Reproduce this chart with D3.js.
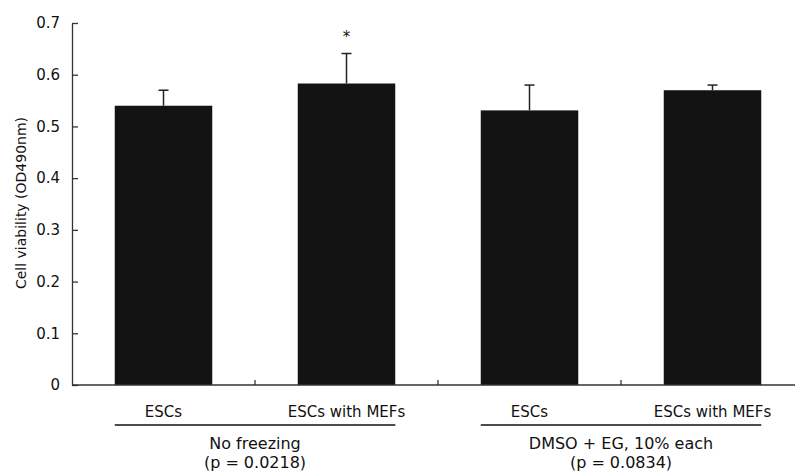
<!DOCTYPE html>
<html>
<head>
<meta charset="utf-8">
<script src="https://cdn.jsdelivr.net/npm/d3@7"></script>
<style>
  body { margin: 0; background: #fff; }
  text { font-family: "DejaVu Sans", Verdana, sans-serif; fill: #111; }
</style>
</head>
<body>
<svg id="chart" width="795" height="472"></svg>
<script>
// data
var barIds = ["nf_esc", "nf_mef", "dm_esc", "dm_mef"];
var barLabels = ["ESCs", "ESCs with MEFs", "ESCs", "ESCs with MEFs"];
var means = [0.54, 0.583, 0.531, 0.57];
var errors = [0.03, 0.058, 0.049, 0.01];
var starred = [false, true, false, false];
var groupNames = ["No freezing", "DMSO + EG, 10% each"];
var groupPvals = ["(p = 0.0218)", "(p = 0.0834)"];
var groupMembers = [["nf_esc", "nf_mef"], ["dm_esc", "dm_mef"]];
var yTicks = [0, 0.1, 0.2, 0.3, 0.4, 0.5, 0.6, 0.7];
var yTickLabels = ["0", "0.1", "0.2", "0.3", "0.4", "0.5", "0.6", "0.7"];

var svg = d3.select("#chart");
var plotLeft = 72, plotRight = 804, plotTop = 23, plotBottom = 385;

var x = d3.scaleBand().domain(barIds).range([plotLeft, plotRight]).padding(0);
var y = d3.scaleLinear().domain([0, 0.7]).range([plotBottom, plotTop]);
var barW = 97.5;
var off = (x.bandwidth() - barW) / 2;

// bars
svg.selectAll("rect.bar")
  .data(barIds)
  .enter().append("rect")
    .attr("class", "bar")
    .attr("x", function(d) { return x(d) + off; })
    .attr("y", function(d, i) { return y(means[i]); })
    .attr("width", barW)
    .attr("height", function(d, i) { return y(0) - y(means[i]); })
    .attr("fill", "#131313");

// error bars (upper only)
barIds.forEach(function(d, i) {
  var cx = x(d) + x.bandwidth() / 2;
  svg.append("line")
    .attr("x1", cx).attr("x2", cx)
    .attr("y1", y(means[i])).attr("y2", y(means[i] + errors[i]))
    .attr("stroke", "#222").attr("stroke-width", 1.5);
  svg.append("line")
    .attr("x1", cx - 5).attr("x2", cx + 5)
    .attr("y1", y(means[i] + errors[i])).attr("y2", y(means[i] + errors[i]))
    .attr("stroke", "#222").attr("stroke-width", 1.5);
  if (starred[i]) {
    svg.append("text")
      .attr("x", cx).attr("y", y(means[i] + errors[i]) - 12)
      .attr("text-anchor", "middle")
      .attr("font-size", 15)
      .text("*");
  }
});

// y axis, ticks pointing inward
var yAxis = svg.append("g")
  .attr("transform", "translate(" + plotLeft + ",0)")
  .call(d3.axisLeft(y)
    .tickValues(yTicks)
    .tickFormat(function(d, i) { return yTickLabels[i]; })
    .tickSizeInner(-6)
    .tickSizeOuter(0)
    .tickPadding(12));
yAxis.select(".domain").attr("stroke", "#333").attr("stroke-width", 1.3);
yAxis.selectAll(".tick line").attr("stroke", "#333").attr("stroke-width", 1.3);
yAxis.selectAll(".tick text")
  .style("font-family", "DejaVu Sans, sans-serif")
  .attr("font-size", 15)
  .attr("fill", "#111");

// x axis line with inward ticks at the category boundaries
svg.append("line")
  .attr("x1", plotLeft).attr("x2", plotRight)
  .attr("y1", plotBottom).attr("y2", plotBottom)
  .attr("stroke", "#333").attr("stroke-width", 1.3);
barIds.slice(1).forEach(function(d) {
  svg.append("line")
    .attr("x1", x(d)).attr("x2", x(d))
    .attr("y1", plotBottom).attr("y2", plotBottom - 5)
    .attr("stroke", "#333").attr("stroke-width", 1.3);
});

// category labels
svg.selectAll("text.cat")
  .data(barIds)
  .enter().append("text")
    .attr("class", "cat")
    .attr("x", function(d) { return x(d) + x.bandwidth() / 2; })
    .attr("y", 417)
    .attr("text-anchor", "middle")
    .attr("font-size", 15)
    .text(function(d, i) { return barLabels[i]; });

// group underlines and names
groupMembers.forEach(function(m, g) {
  var x0 = x(m[0]) + off;
  var x1 = x(m[1]) + off + barW;
  svg.append("line")
    .attr("x1", x0).attr("x2", x1)
    .attr("y1", 425).attr("y2", 425)
    .attr("stroke", "#111").attr("stroke-width", 1.3);
  svg.append("text")
    .attr("x", (x0 + x1) / 2).attr("y", 449)
    .attr("text-anchor", "middle")
    .attr("font-size", 16)
    .text(groupNames[g]);
  svg.append("text")
    .attr("x", (x0 + x1) / 2).attr("y", 468)
    .attr("text-anchor", "middle")
    .attr("font-size", 16)
    .text(groupPvals[g]);
});

// y axis title
svg.append("text")
  .attr("transform", "translate(26,203) rotate(-90)")
  .attr("text-anchor", "middle")
  .attr("font-size", 14)
  .text("Cell viability (OD490nm)");
</script>
</body>
</html>
